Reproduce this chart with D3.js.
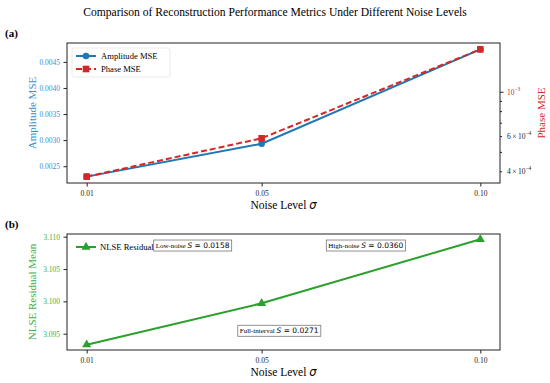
<!DOCTYPE html>
<html>
<head>
<meta charset="utf-8">
<script src="https://cdn.jsdelivr.net/npm/d3@7"></script>
<style>
  body { margin: 0; background: #fff; }
  svg text { font-family: "Liberation Serif", "DejaVu Serif", serif; }
  .sans { font-family: "DejaVu Sans", sans-serif; }
</style>
</head>
<body>
<div id="vis"></div>
<script>
// data
var noiseLevels = [0.01, 0.05, 0.10];
var noiseTickLabels = ['0.01', '0.05', '0.10'];
var amplitudeMSE = [0.00230, 0.00293, 0.00474];
var phaseMSE = [0.000376, 0.000585, 0.00163];
var nlseResidual = [3.0933, 3.0997, 3.1096];
var amplitudeTicks = [0.0025, 0.0030, 0.0035, 0.0040, 0.0045];
var nlseTicks = [3.095, 3.100, 3.105, 3.110];
var phaseMajorTicks = [1e-3];
var phaseMinorTicks = [4e-4, 5e-4, 6e-4, 7e-4, 8e-4, 9e-4];
var phaseMinorLabels = [4e-4, 6e-4];
var annotations = [
    {label: 'Low-noise', value: '0.0158', fx: 0.29, fy: 0.095},
    {label: 'High-noise', value: '0.0360', fx: 0.69, fy: 0.095},
    {label: 'Full-interval', value: '0.0271', fx: 0.49, fy: 0.83}
];

var width = 550, height = 383;
var blue = '#1f77b4', red = '#d62728', green = '#2ca02c';
var tickBlue = '#3a8fd3', tickGreen = '#3cb043';

var svg = d3.select('#vis').append('svg')
    .attr('width', width).attr('height', height);

var panelA = {left: 67, right: 500, top: 43, bottom: 183};
var panelB = {left: 67, right: 500, top: 234, bottom: 350};

// matplotlib style 5% padding around the data
var pad = function(ext) {
    var d = (ext[1] - ext[0]) * 0.05;
    return [ext[0] - d, ext[1] + d];
};
var padLog = function(ext) {
    var l0 = Math.log10(ext[0]), l1 = Math.log10(ext[1]);
    var d = (l1 - l0) * 0.05;
    return [Math.pow(10, l0 - d), Math.pow(10, l1 + d)];
};

svg.append('text')
    .attr('x', width / 2).attr('y', 16)
    .attr('text-anchor', 'middle')
    .style('font-size', '11.6px')
    .text('Comparison of Reconstruction Performance Metrics Under Different Noise Levels');

var xLabel = function(p) {
    var t = svg.append('text')
        .attr('x', (p.left + p.right) / 2).attr('y', p.bottom + 26)
        .attr('text-anchor', 'middle')
        .style('font-size', '11.5px');
    t.append('tspan').text('Noise Level ');
    t.append('tspan').attr('class', 'sans').style('font-style', 'italic').text('σ');
};

var frame = function(g, p) {
    g.append('rect')
        .attr('x', 0).attr('y', 0)
        .attr('width', p.right - p.left).attr('height', p.bottom - p.top)
        .attr('fill', 'none').attr('stroke', '#222').attr('stroke-width', 1);
};

var styleAxis = function(ax, color) {
    ax.select('.domain').remove();
    ax.selectAll('.tick line').attr('stroke', '#222');
    ax.selectAll('.tick text')
        .style('font-family', '"Liberation Serif", serif')
        .style('font-size', '7.5px')
        .attr('fill', color);
};

// ---------- panel (a) ----------
var xA = d3.scaleLinear().domain(pad(d3.extent(noiseLevels))).range([0, panelA.right - panelA.left]);
var yA = d3.scaleLinear().domain(pad(d3.extent(amplitudeMSE))).range([panelA.bottom - panelA.top, 0]);
var yP = d3.scaleLog().domain(padLog(d3.extent(phaseMSE))).range([panelA.bottom - panelA.top, 0]);

var gA = svg.append('g').attr('transform', 'translate(' + panelA.left + ',' + panelA.top + ')');

var axA = gA.append('g').attr('transform', 'translate(0,' + (panelA.bottom - panelA.top) + ')')
    .call(d3.axisBottom(xA).tickValues(noiseLevels).tickSize(3.5).tickPadding(4)
        .tickFormat(function(d, i) { return noiseTickLabels[i]; }));
styleAxis(axA, '#222');

var ayA = gA.append('g')
    .call(d3.axisLeft(yA).tickValues(amplitudeTicks).tickSize(3.5).tickPadding(3.5).tickFormat(d3.format('.4f')));
styleAxis(ayA, tickBlue);

var rw = panelA.right - panelA.left;
var ayP = gA.append('g').attr('transform', 'translate(' + rw + ',0)')
    .call(d3.axisRight(yP).tickValues(phaseMinorTicks).tickSize(2).tickFormat(''));
styleAxis(ayP, '#222');
var ayPM = gA.append('g').attr('transform', 'translate(' + rw + ',0)')
    .call(d3.axisRight(yP).tickValues(phaseMajorTicks).tickSize(3.5).tickFormat(''));
styleAxis(ayPM, red);

var sciLabel = function(v, mant, color) {
    var exp = Math.round(Math.log10(v / (mant || 1)));
    var t = gA.append('text')
        .attr('x', rw + 7).attr('y', yP(v) + 3)
        .attr('fill', color)
        .style('font-size', '7.5px');
    t.append('tspan').text((mant ? mant + '\u2009×\u200910' : '10'));
    t.append('tspan').attr('dy', -4).style('font-size', '5.5px').text('−' + Math.abs(exp));
};
phaseMajorTicks.forEach(function(v) { sciLabel(v, 0, red); });
phaseMinorLabels.forEach(function(v) { sciLabel(v, Math.round(v / 1e-4), '#222'); });

frame(gA, panelA);

var lineA = d3.line().x(function(d, i) { return xA(noiseLevels[i]); }).y(function(d) { return yA(d); });
var lineP = d3.line().x(function(d, i) { return xA(noiseLevels[i]); }).y(function(d) { return yP(d); });

gA.append('path').datum(amplitudeMSE).attr('d', lineA)
    .attr('fill', 'none').attr('stroke', blue).attr('stroke-width', 2);
gA.selectAll('.amp').data(amplitudeMSE).enter().append('circle')
    .attr('cx', function(d, i) { return xA(noiseLevels[i]); })
    .attr('cy', function(d) { return yA(d); })
    .attr('r', 3.3).attr('fill', blue);

gA.append('path').datum(phaseMSE).attr('d', lineP)
    .attr('fill', 'none').attr('stroke', red).attr('stroke-width', 2)
    .attr('stroke-dasharray', '6,3');
gA.selectAll('.ph').data(phaseMSE).enter().append('rect')
    .attr('x', function(d, i) { return xA(noiseLevels[i]) - 3.3; })
    .attr('y', function(d) { return yP(d) - 3.3; })
    .attr('width', 6.6).attr('height', 6.6).attr('fill', red);

// legend (a)
var legA = gA.append('g').attr('transform', 'translate(5,5)');
legA.append('rect').attr('width', 98).attr('height', 29).attr('rx', 2)
    .attr('fill', '#fff').attr('fill-opacity', 0.8).attr('stroke', '#e6e6e6').attr('stroke-width', 0.8);
legA.append('line').attr('x1', 4).attr('x2', 24).attr('y1', 8).attr('y2', 8)
    .attr('stroke', blue).attr('stroke-width', 2);
legA.append('circle').attr('cx', 14).attr('cy', 8).attr('r', 3.3).attr('fill', blue);
legA.append('text').attr('x', 29).attr('y', 11).style('font-size', '8.6px').text('Amplitude MSE');
legA.append('line').attr('x1', 4).attr('x2', 24).attr('y1', 21).attr('y2', 21)
    .attr('stroke', red).attr('stroke-width', 2).attr('stroke-dasharray', '6,3');
legA.append('rect').attr('x', 10.7).attr('y', 17.7).attr('width', 6.6).attr('height', 6.6).attr('fill', red);
legA.append('text').attr('x', 29).attr('y', 24).style('font-size', '8.6px').text('Phase MSE');

svg.append('text')
    .attr('transform', 'translate(' + 36 + ',' + ((panelA.top + panelA.bottom) / 2) + ') rotate(-90)')
    .attr('text-anchor', 'middle').attr('fill', tickBlue)
    .style('font-size', '11px').text('Amplitude MSE');
svg.append('text')
    .attr('transform', 'translate(' + 545 + ',' + ((panelA.top + panelA.bottom) / 2) + ') rotate(-90)')
    .attr('text-anchor', 'middle').attr('fill', red)
    .style('font-size', '11px').text('Phase MSE');

svg.append('text').attr('x', 5).attr('y', 37)
    .style('font-size', '11px').style('font-weight', 'bold').text('(a)');
xLabel(panelA);

// ---------- panel (b) ----------
var xB = d3.scaleLinear().domain(pad(d3.extent(noiseLevels))).range([0, panelB.right - panelB.left]);
var yB = d3.scaleLinear().domain(pad(d3.extent(nlseResidual))).range([panelB.bottom - panelB.top, 0]);

var gB = svg.append('g').attr('transform', 'translate(' + panelB.left + ',' + panelB.top + ')');

var axB = gB.append('g').attr('transform', 'translate(0,' + (panelB.bottom - panelB.top) + ')')
    .call(d3.axisBottom(xB).tickValues(noiseLevels).tickSize(3.5).tickPadding(4)
        .tickFormat(function(d, i) { return noiseTickLabels[i]; }));
styleAxis(axB, '#222');

var ayB = gB.append('g')
    .call(d3.axisLeft(yB).tickValues(nlseTicks).tickSize(3.5).tickPadding(3.5).tickFormat(d3.format('.3f')));
styleAxis(ayB, tickGreen);

frame(gB, panelB);

var lineB = d3.line().x(function(d, i) { return xB(noiseLevels[i]); }).y(function(d) { return yB(d); });
gB.append('path').datum(nlseResidual).attr('d', lineB)
    .attr('fill', 'none').attr('stroke', green).attr('stroke-width', 2);
var tri = d3.symbol().type(d3.symbolTriangle).size(36);
gB.selectAll('.nl').data(nlseResidual).enter().append('path')
    .attr('d', tri)
    .attr('transform', function(d, i) { return 'translate(' + xB(noiseLevels[i]) + ',' + yB(d) + ')'; })
    .attr('fill', green);

// legend (b)
var legB = gB.append('g').attr('transform', 'translate(5,5)');
legB.append('line').attr('x1', 4).attr('x2', 24).attr('y1', 8).attr('y2', 8)
    .attr('stroke', green).attr('stroke-width', 2);
legB.append('path').attr('d', tri).attr('transform', 'translate(14,8)').attr('fill', green);
legB.append('text').attr('x', 28).attr('y', 11).style('font-size', '8.6px').text('NLSE Residual');

// annotation boxes
var bw = panelB.right - panelB.left, bh = panelB.bottom - panelB.top;
annotations.forEach(function(a) {
    var g = gB.append('g');
    var t = g.append('text')
        .attr('x', a.fx * bw).attr('y', a.fy * bh + 3)
        .attr('text-anchor', 'middle');
    t.append('tspan').style('font-size', '7px').text(a.label + ' ');
    t.append('tspan').attr('class', 'sans').style('font-style', 'italic').style('font-size', '7.5px').text('S');
    t.append('tspan').attr('class', 'sans').style('font-size', '7.5px').text(' = ' + a.value);
    var bb = t.node().getBBox();
    g.insert('rect', 'text')
        .attr('x', bb.x - 2).attr('y', bb.y - 1)
        .attr('width', bb.width + 4).attr('height', bb.height + 2)
        .attr('fill', '#fff').attr('stroke', '#777').attr('stroke-width', 0.8);
});

svg.append('text')
    .attr('transform', 'translate(' + 36 + ',' + ((panelB.top + panelB.bottom) / 2) + ') rotate(-90)')
    .attr('text-anchor', 'middle').attr('fill', tickGreen)
    .style('font-size', '11px').text('NLSE Residual Mean');

svg.append('text').attr('x', 5).attr('y', 228)
    .style('font-size', '11px').style('font-weight', 'bold').text('(b)');
xLabel(panelB);
</script>
</body>
</html>
